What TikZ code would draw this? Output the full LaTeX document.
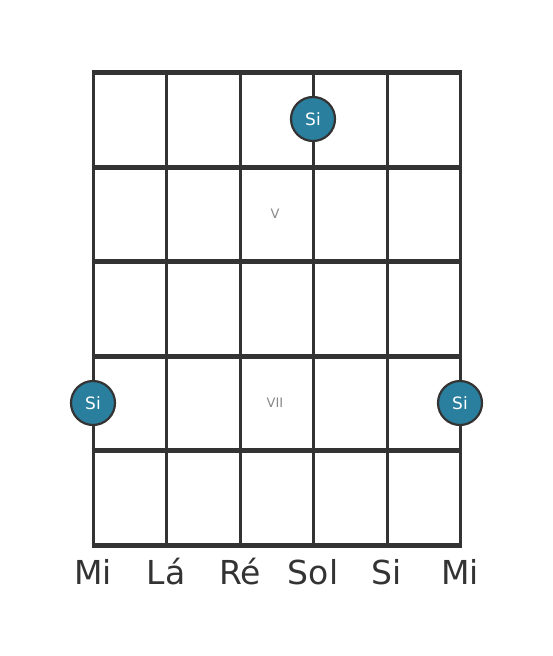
\documentclass[tikz,border=0pt]{standalone}
\usepackage{fontspec}
\setmainfont{DejaVu Sans}
\definecolor{gridc}{HTML}{333333}
\definecolor{dotc}{HTML}{2A7F9E}
\definecolor{fretc}{HTML}{888888}
\begin{document}
\begin{tikzpicture}[x=1pt,y=-1pt,
  fret/.style={line width=5pt,draw=gridc},
  string/.style={line width=3pt,draw=gridc},
  notedot/.style={circle,fill=dotc,draw=gridc,line width=2.2pt,minimum size=44pt,inner sep=0pt,text=white,font=\fontsize{17}{17}\selectfont},
  fretlabel/.style={text=fretc,font=\fontsize{13}{13}\selectfont},
  strlabel/.style={text=gridc,font=\fontsize{33}{33}\selectfont}]
\useasboundingbox (0,0) rectangle (553,656);
\foreach \y in {72,167,261,356,450,545} \draw[fret] (91.5,\y) -- (461.5,\y);
\foreach \x in {93,166,240,313,387,460} \draw[string] (\x,72) -- (\x,545);
\node[fretlabel] (v) at (275,214) {V};
\node[fretlabel] (vii) at (275,403) {VII};
\node[notedot] (n1) at (313,119) {Si};
\node[notedot] (n2) at (93,403) {Si};
\node[notedot] (n3) at (460,403) {Si};
\node[strlabel] (s1) at (93,572) {Mi};
\node[strlabel] (s2) at (166,572) {Lá};
\node[strlabel] (s3) at (240,572) {Ré};
\node[strlabel] (s4) at (313,572) {Sol};
\node[strlabel] (s5) at (387,572) {Si};
\node[strlabel] (s6) at (460,572) {Mi};
\end{tikzpicture}
\end{document}
